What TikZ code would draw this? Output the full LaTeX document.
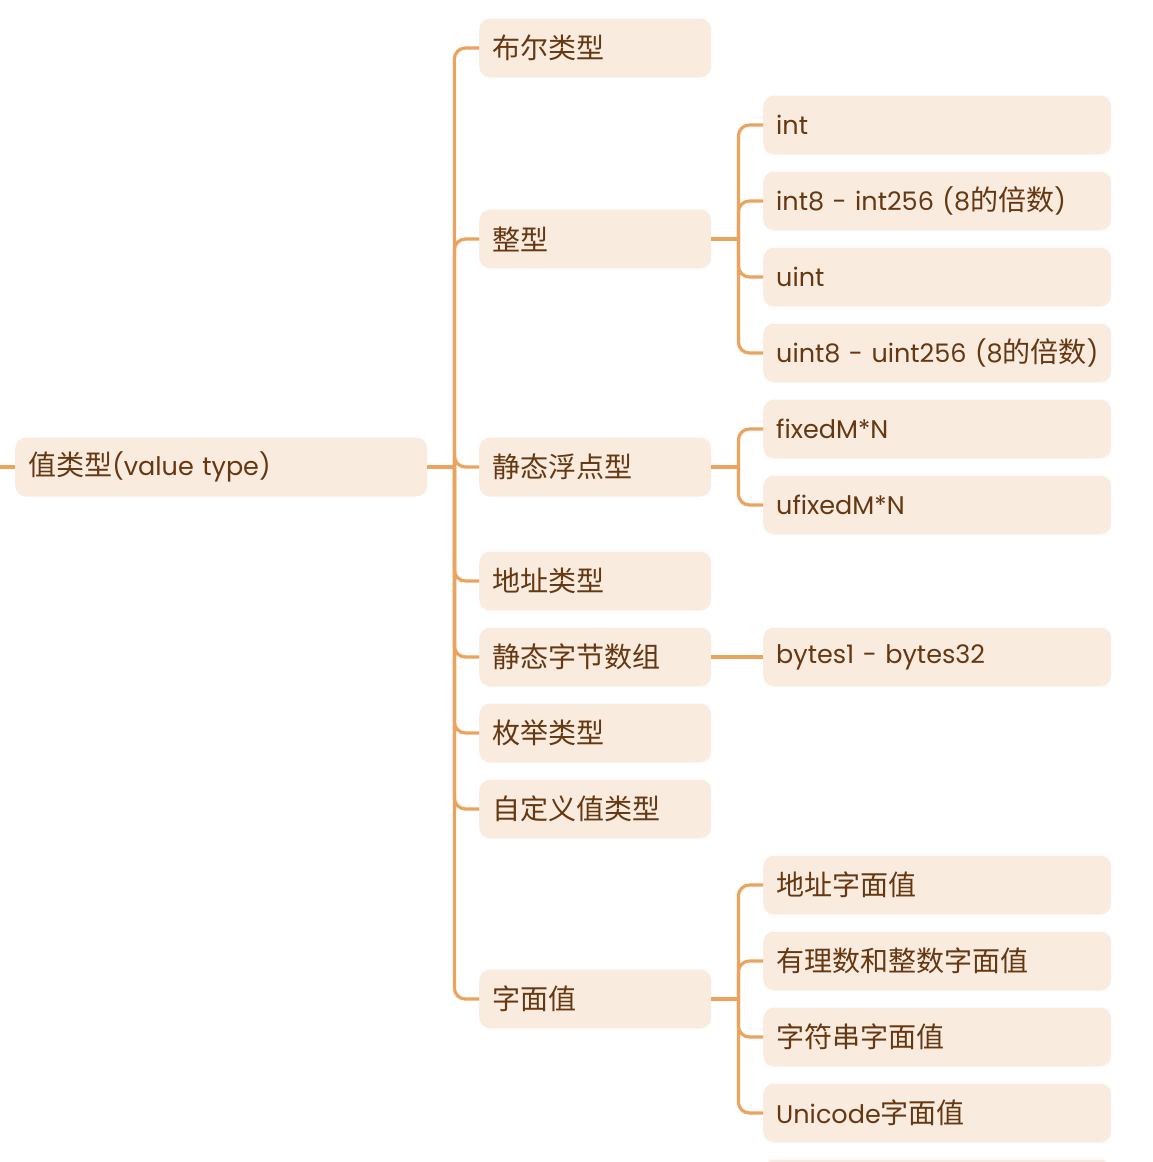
\documentclass[tikz,border=0pt]{standalone}
\usepackage{fontspec}
\setmainfont{Poppins}
\newfontfamily\cjk[Scale=1.1]{Noto Sans CJK SC}
\usepackage{tikz}
\usetikzlibrary{positioning}

\definecolor{boxfill}{HTML}{FAEBDF}
\definecolor{linkcol}{HTML}{EBA35E}
\definecolor{txtcol}{HTML}{653812}

\tikzset{
  box/.style={fill=boxfill, rounded corners=11pt, minimum height=59pt, inner xsep=13pt,
    align=left, text=txtcol, anchor=west, font=\fontsize{25.5}{31}\selectfont},
  rootbox/.style={box, text width=386pt},
  midbox/.style={box, text width=206pt},
  leafbox/.style={box, text width=322pt},
  link/.style={draw=linkcol, line width=3.2pt, rounded corners=11pt}
}

\begin{document}
\begin{tikzpicture}
    \useasboundingbox (0,0) rectangle (1152pt,-1162pt);
    % root
    \node[rootbox] (root) at (15pt,-467pt) {{\cjk 值类型}(value type)};
    % first level
    \node[midbox] (bool) at (479pt,-48pt) {\cjk 布尔类型};
    \node[midbox] (integer) at (479pt,-239pt) {\cjk 整型};
    \node[midbox] (fixed) at (479pt,-467pt) {\cjk 静态浮点型};
    \node[midbox] (addr) at (479pt,-581pt) {\cjk 地址类型};
    \node[midbox] (bytes) at (479pt,-657pt) {\cjk 静态字节数组};
    \node[midbox] (enum) at (479pt,-733pt) {\cjk 枚举类型};
    \node[midbox] (userdef) at (479pt,-809pt) {\cjk 自定义值类型};
    \node[midbox] (literal) at (479pt,-999pt) {\cjk 字面值};
    % second level
    \node[leafbox] (int) at (763pt,-125pt) {int};
    \node[leafbox] (intn) at (763pt,-201pt) {\mbox{int8 - int256 ({8\cjk 的倍数})}};
    \node[leafbox] (uint) at (763pt,-277pt) {uint};
    \node[leafbox] (uintn) at (763pt,-353pt) {\mbox{uint8 - uint256 ({8\cjk 的倍数})}};
    \node[leafbox] (fixedmn) at (763pt,-429pt) {fixedM*N};
    \node[leafbox] (ufixedmn) at (763pt,-505pt) {ufixedM*N};
    \node[leafbox] (bytesn) at (763pt,-657pt) {bytes1 - bytes32};
    \node[leafbox] (addrlit) at (763pt,-885pt) {\cjk 地址字面值};
    \node[leafbox] (ratlit) at (763pt,-961pt) {\cjk 有理数和整数字面值};
    \node[leafbox] (strlit) at (763pt,-1037pt) {\cjk 字符串字面值};
    \node[leafbox] (unilit) at (763pt,-1113pt) {Unicode{\cjk 字面值}};
    \node[leafbox] (more) at (763pt,-1189pt) {};

    % connectors
    \draw[link] (root.west) -- ++(-15pt,0);
    \draw[link] (root.east) -- ++(27pt,0) coordinate (rj);
    \foreach \c in {bool,integer,fixed,addr,bytes,enum,userdef,literal}
        \draw[link] (rj) |- (\c.west);
    \draw[link] (integer.east) -- ++(27pt,0) coordinate (ij);
    \foreach \c in {int,intn,uint,uintn}
        \draw[link] (ij) |- (\c.west);
    \draw[link] (fixed.east) -- ++(27pt,0) coordinate (fj);
    \foreach \c in {fixedmn,ufixedmn}
        \draw[link] (fj) |- (\c.west);
    \draw[link] (bytes.east) -- (bytesn.west);
    \draw[link] (literal.east) -- ++(27pt,0) coordinate (lj);
    \foreach \c in {addrlit,ratlit,strlit,unilit}
        \draw[link] (lj) |- (\c.west);
\end{tikzpicture}
\end{document}
